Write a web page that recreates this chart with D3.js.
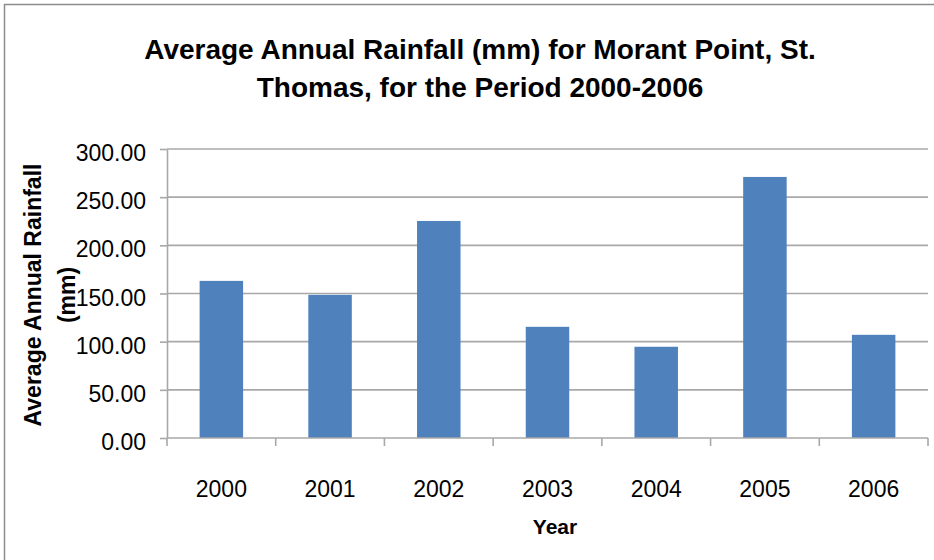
<!doctype html>
<html>
<head>
    <meta charset="utf-8">
    <script src="https://cdnjs.cloudflare.com/ajax/libs/d3/7.8.5/d3.min.js"></script>
    <style>
        body { margin: 0; background: #fff; }
        text { font-family: "Liberation Sans", Arial, sans-serif; fill: #000; }
        .grid line { stroke: #a8a8a8; stroke-width: 1.6; }
        .axis path, .axis line { stroke: #a8a8a8; stroke-width: 1.6; }
    </style>
</head>
<body>
<script>
    var years = ["2000", "2001", "2002", "2003", "2004", "2005", "2006"];
    var rainfall = [163.1, 148.6, 225.3, 115.4, 94.7, 271.0, 107.1];
    var yTicks = [0, 50, 100, 150, 200, 250, 300];

    var width = 934, height = 560;
    var margin = {top: 149, right: 6, bottom: 122, left: 167};
    var w = 928 - margin.left, h = 438 - margin.top;

    var svg = d3.select("body").append("svg")
        .attr("width", width)
        .attr("height", height);

    // outer chart border
    svg.append("rect")
        .attr("x", 4.5).attr("y", 4.5)
        .attr("width", 940).attr("height", 600)
        .attr("fill", "none")
        .attr("stroke", "#8c8c8c")
        .attr("stroke-width", 1.5);

    svg.append("text")
        .attr("x", 480).attr("y", 59)
        .attr("text-anchor", "middle")
        .style("font-size", "28px").style("font-weight", "bold")
        .text("Average Annual Rainfall (mm) for Morant Point, St.");
    svg.append("text")
        .attr("x", 480).attr("y", 97)
        .attr("text-anchor", "middle")
        .style("font-size", "28px").style("font-weight", "bold")
        .text("Thomas, for the Period 2000-2006");

    var g = svg.append("g")
        .attr("transform", "translate(" + margin.left + "," + margin.top + ")");

    var x = d3.scaleBand().domain(years).range([0, w]).paddingInner(0.6).paddingOuter(0.3);
    var xb = d3.scaleBand().domain(years).range([0, w]);
    var y = d3.scaleLinear().domain([0, 300]).range([h, 0]);

    // gridlines
    g.append("g").attr("class", "grid")
        .selectAll("line").data(yTicks.slice(1)).enter().append("line")
        .attr("x1", 0).attr("x2", w)
        .attr("y1", function(d) { return y(d); })
        .attr("y2", function(d) { return y(d); });

    g.selectAll(".bar")
        .data(rainfall)
        .enter().append("rect")
        .attr("class", "bar")
        .attr("x", function(d, i) { return x(years[i]); })
        .attr("width", x.bandwidth())
        .attr("y", function(d) { return y(d); })
        .attr("height", function(d) { return h - y(d); })
        .style("fill", "#4f81bd");

    // y axis
    var yAxis = g.append("g").attr("class", "axis")
        .call(d3.axisLeft(y).tickValues(yTicks).tickSize(7).tickSizeOuter(0).tickFormat(d3.format(".2f")));
    yAxis.selectAll("text")
        .attr("x", -21).attr("dy", "0.5em")
        .style("font-size", "23px");

    // x axis with boundary ticks
    var xa = g.append("g").attr("class", "axis")
        .attr("transform", "translate(0," + h + ")");
    xa.append("line").attr("x1", 0).attr("x2", w);
    xa.selectAll(".tk")
        .data(years.concat(["end"])).enter().append("line")
        .attr("class", "tk")
        .attr("x1", function(d, i) { return i * xb.bandwidth(); })
        .attr("x2", function(d, i) { return i * xb.bandwidth(); })
        .attr("y1", 0).attr("y2", 8);
    xa.selectAll(".lbl")
        .data(years).enter().append("text")
        .attr("class", "lbl")
        .attr("x", function(d) { return xb(d) + xb.bandwidth() / 2; })
        .attr("y", 59)
        .attr("text-anchor", "middle")
        .style("font-size", "23px")
        .text(function(d) { return d; });

    svg.append("text")
        .attr("x", 555).attr("y", 534)
        .attr("text-anchor", "middle")
        .style("font-size", "21px").style("font-weight", "bold")
        .text("Year");

    var yt = svg.append("text")
        .attr("transform", "translate(41,295) rotate(-90)")
        .attr("text-anchor", "middle")
        .style("font-size", "23px").style("font-weight", "bold");
    yt.append("tspan").attr("x", 0).attr("y", 0).text("Average Annual Rainfall");
    yt.append("tspan").attr("x", 0).attr("y", 34).text("(mm)");
</script>
</body>
</html>
